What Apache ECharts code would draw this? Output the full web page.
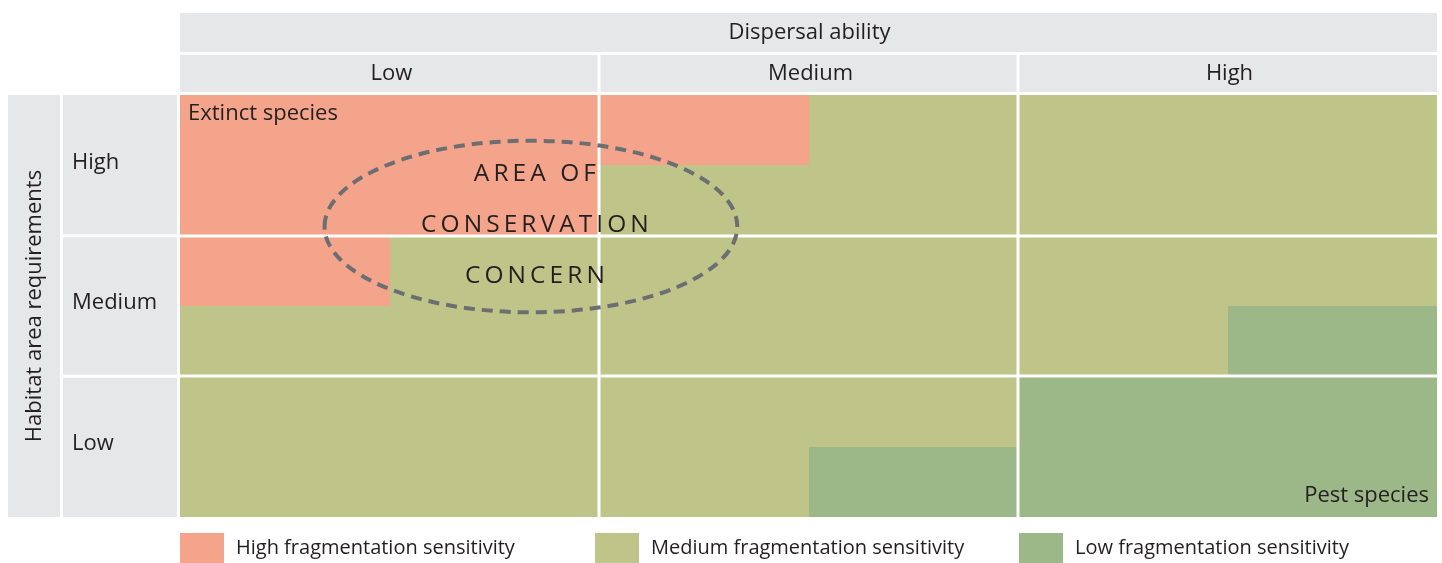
<!DOCTYPE html>
<html>
<head>
<meta charset="utf-8">
<title>Fragmentation sensitivity</title>
<script src="https://cdn.jsdelivr.net/npm/echarts@6/dist/echarts.min.js"></script>
<style>
  html, body { margin: 0; padding: 0; background: #fff; }
  #chart { width: 1442px; height: 563px; }
</style>
</head>
<body>
<div id="chart"></div>
<script>
const dispersalLevels = ['Low', 'Medium', 'High'];
const habitatLevels = ['High', 'Medium', 'Low'];
const classNames = ['High fragmentation sensitivity', 'Medium fragmentation sensitivity', 'Low fragmentation sensitivity'];
const classCodes = ['H', 'M', 'L'];
// every dispersal x habitat cell is split 2x2; rows go top -> bottom
const sensitivityGrid = [
  ['H', 'H', 'H', 'M', 'M', 'M'],
  ['H', 'H', 'M', 'M', 'M', 'M'],
  ['H', 'M', 'M', 'M', 'M', 'M'],
  ['M', 'M', 'M', 'M', 'M', 'L'],
  ['M', 'M', 'M', 'M', 'L', 'L'],
  ['M', 'M', 'M', 'L', 'L', 'L']
];
const cornerNotes = ['Extinct species', 'Pest species'];
const concernText = ['AREA OF', 'CONSERVATION', 'CONCERN'];

const FONT = '"Open Sans"';
const INK = '#231f20';
const PANEL = '#e6e7e9';
const classColors = ['#f4a48a', '#bfc588', '#9cb788'];

const chart = echarts.init(document.getElementById('chart'));

const cellsFor = code => {
  const out = [];
  sensitivityGrid.forEach((row, r) => row.forEach((c, col) => {
    if (c === code) out.push([col, r]);
  }));
  return out;
};

// letter spaced caps, echarts has no letterSpacing
const spaced = s => s.split('').join('\u2009');

const renderSubCell = (params, api) => {
  const col = api.value(0), row = api.value(1);
  const p0 = api.coord([col, row]);
  const p1 = api.coord([col + 1, row + 1]);
  const g = 1.5;
  let x0 = Math.round(p0[0]), x1 = Math.round(p1[0]);
  let y0 = Math.round(p0[1]), y1 = Math.round(p1[1]);
  if (col % 2 === 0 && col > 0) x0 += g;
  if (col % 2 === 1 && col < 5) x1 -= g;
  if (row % 2 === 0 && row > 0) y0 += g;
  if (row % 2 === 1 && row < 5) y1 -= g;
  return {
    type: 'rect',
    shape: { x: x0, y: y0, width: x1 - x0, height: y1 - y0 },
    style: { fill: api.visual('color') }
  };
};

const textStyle = (text, size, extra) => Object.assign({
  text: text,
  fill: INK,
  font: size + 'px ' + FONT
}, extra || {});

const hiddenValue = (gridIndex, inverse) => ({
  type: 'value', gridIndex: gridIndex, min: 0, max: 1, show: false, inverse: !!inverse
});

const option = {
  animation: false,
  backgroundColor: '#fff',
  grid: [
    { left: 180, right: 5, top: 95, bottom: 46 },   // main matrix
    { left: 180, right: 5, top: 13, height: 39 },   // Dispersal ability
    { left: 180, right: 5, top: 55, height: 37 },   // Low / Medium / High
    { left: 8, width: 52, top: 95, bottom: 46 },    // Habitat area requirements
    { left: 63, width: 114, top: 95, bottom: 46 }   // High / Medium / Low
  ],
  xAxis: [
    { type: 'value', gridIndex: 0, min: 0, max: 6, show: false },
    hiddenValue(1),
    { type: 'category', gridIndex: 2, data: dispersalLevels, show: false },
    hiddenValue(3),
    hiddenValue(4)
  ],
  yAxis: [
    { type: 'value', gridIndex: 0, min: 0, max: 6, inverse: true, show: false },
    hiddenValue(1),
    hiddenValue(2),
    hiddenValue(3),
    { type: 'category', gridIndex: 4, data: habitatLevels, inverse: true, show: false }
  ],
  legend: classNames.map((name, i) => ({
    data: [name],
    left: [180, 595, 1019][i],
    top: 533,
    padding: 0,
    icon: 'rect',
    itemWidth: 44,
    itemHeight: 30,
    selectedMode: false,
    textStyle: { fontFamily: FONT, fontSize: 20, color: INK, padding: [6, 0, 0, 7] }
  })),
  series: [
    ...classCodes.map((code, i) => ({
      name: classNames[i],
      type: 'custom',
      xAxisIndex: 0,
      yAxisIndex: 0,
      itemStyle: { color: classColors[i] },
      renderItem: renderSubCell,
      encode: { x: 0, y: 1 },
      data: cellsFor(code),
      silent: true
    })),
    {
      // corner notes
      type: 'custom',
      xAxisIndex: 0,
      yAxisIndex: 0,
      silent: true,
      data: [[0]],
      renderItem: (params, api) => {
        const tl = api.coord([0, 0]);
        const br = api.coord([6, 6]);
        return {
          type: 'group',
          children: [
            { type: 'text', x: tl[0] + 8, y: tl[1] + 19,
              style: textStyle(cornerNotes[0], 22, { align: 'left', verticalAlign: 'middle' }) },
            { type: 'text', x: br[0] - 8, y: br[1] - 21,
              style: textStyle(cornerNotes[1], 22, { align: 'right', verticalAlign: 'middle' }) }
          ]
        };
      }
    },
    {
      // area of conservation concern
      type: 'custom',
      xAxisIndex: 0,
      yAxisIndex: 0,
      silent: true,
      clip: false,
      data: [[0]],
      renderItem: (params, api) => {
        const c = api.coord([1.675, 1.87]);
        const r = api.size([0.985, 1.22]);
        return {
          type: 'group',
          children: [
            { type: 'ellipse', shape: { cx: c[0], cy: c[1], rx: r[0], ry: r[1] },
              style: { fill: 'none', stroke: '#6d6e71', lineWidth: 4, lineDash: [11, 7] } },
            { type: 'text', x: c[0] + 4, y: c[1] - 2,
              style: textStyle(concernText.map(spaced).join('\n'), 24.5,
                { align: 'center', verticalAlign: 'middle', lineHeight: 51 }) }
          ]
        };
      }
    },
    {
      type: 'custom',
      xAxisIndex: 1,
      yAxisIndex: 1,
      silent: true,
      data: [[0]],
      renderItem: (params, api) => {
        const cs = params.coordSys;
        return {
          type: 'group',
          children: [
            { type: 'rect', shape: { x: cs.x, y: cs.y, width: cs.width, height: cs.height }, style: { fill: PANEL } },
            { type: 'text', x: cs.x + cs.width / 2 + 1, y: cs.y + cs.height / 2,
              style: textStyle('Dispersal ability', 22, { align: 'center', verticalAlign: 'middle' }) }
          ]
        };
      }
    },
    {
      type: 'custom',
      xAxisIndex: 2,
      yAxisIndex: 2,
      silent: true,
      encode: { x: 0 },
      data: dispersalLevels.map((name, i) => [i]),
      renderItem: (params, api) => {
        const cs = params.coordSys;
        const i = api.value(0);
        const cx = api.coord([i, 0])[0];
        const w = api.size([1, 0])[0];
        const x0 = cx - w / 2 + (i > 0 ? 1.5 : 0);
        const x1 = cx + w / 2 - (i < dispersalLevels.length - 1 ? 1.5 : 0);
        return {
          type: 'group',
          children: [
            { type: 'rect', shape: { x: x0, y: cs.y, width: x1 - x0, height: cs.height }, style: { fill: PANEL } },
            { type: 'text', x: cx + 2, y: cs.y + cs.height / 2,
              style: textStyle(dispersalLevels[i], 22, { align: 'center', verticalAlign: 'middle' }) }
          ]
        };
      }
    },
    {
      type: 'custom',
      xAxisIndex: 3,
      yAxisIndex: 3,
      silent: true,
      data: [[0]],
      renderItem: (params, api) => {
        const cs = params.coordSys;
        return {
          type: 'group',
          children: [
            { type: 'rect', shape: { x: cs.x, y: cs.y, width: cs.width, height: cs.height }, style: { fill: PANEL } },
            { type: 'text', x: cs.x + cs.width / 2 + 1, y: cs.y + cs.height / 2, rotation: Math.PI / 2,
              style: textStyle('Habitat area requirements', 22, { align: 'center', verticalAlign: 'middle' }) }
          ]
        };
      }
    },
    {
      type: 'custom',
      xAxisIndex: 4,
      yAxisIndex: 4,
      silent: true,
      encode: { y: 0 },
      data: habitatLevels.map((name, i) => [i]),
      renderItem: (params, api) => {
        const cs = params.coordSys;
        const i = api.value(0);
        const cy = api.coord([0, i])[1];
        const h = api.size([0, 1])[1];
        const y0 = cy - h / 2 + (i > 0 ? 1.5 : 0);
        const y1 = cy + h / 2 - (i < habitatLevels.length - 1 ? 1.5 : 0);
        return {
          type: 'group',
          children: [
            { type: 'rect', shape: { x: cs.x, y: y0, width: cs.width, height: y1 - y0 }, style: { fill: PANEL } },
            { type: 'text', x: cs.x + 9, y: cy - 3,
              style: textStyle(habitatLevels[i], 22, { align: 'left', verticalAlign: 'middle' }) }
          ]
        };
      }
    }
  ]
};

chart.setOption(option);
</script>
</body>
</html>
